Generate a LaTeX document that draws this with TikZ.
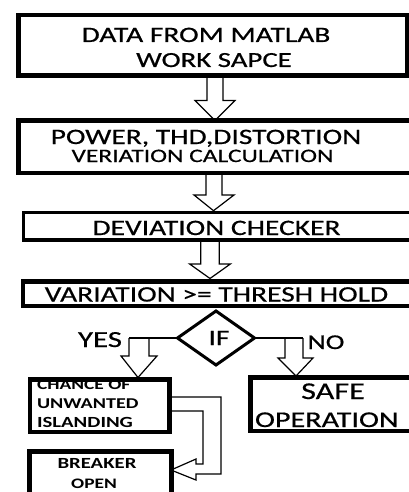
\documentclass[tikz,border=0pt]{standalone}
\usepackage{fontspec}
\setmainfont{Carlito}[FakeStretch=1.34]
\newfontfamily\medfont{Carlito}[FakeStretch=1.34, FakeBold=0.6]
\usetikzlibrary{calc,shapes.geometric}

% hollow block arrow pointing down: #1 start, #2 tip, #3 half shaft, #4 half head, #5 head length
\newcommand\hollowdown[5]{%
  \draw[blockline] let \p1=(#1), \p2=(#2) in
    (\x1-#3pt,\y1) -- (\x1-#3pt,\y2+#5pt) -- (\x1-#4pt,\y2+#5pt) -- (\x2,\y2)
    -- (\x1+#4pt,\y2+#5pt) -- (\x1+#3pt,\y2+#5pt) -- (\x1+#3pt,\y1);}

\tikzset{
  box/.style={draw=black, rectangle, inner sep=0pt, outer sep=0pt},
  blockline/.style={draw=black, line width=1.2pt, line join=miter},
  txt/.style={inner sep=0pt, outer sep=0pt, anchor=base, text=black},
  txtl/.style={txt, anchor=base west},
  branch/.style={draw=black, line width=2.6pt},
}

\begin{document}
\begin{tikzpicture}[x=1pt, y=-1pt]
\useasboundingbox (0,0) rectangle (409,492);
\fill[white] (0,0) rectangle (409,492);

% process boxes
\node[box, line width=4.6pt, minimum width=388.5pt, minimum height=60.5pt] (b1) at (212.75,45.25) {};
\node[box, line width=4.5pt, minimum width=392.5pt, minimum height=52.5pt] (b2) at (214.75,146.75) {};
\node[box, line width=3.8pt, minimum width=387.5pt, minimum height=27.5pt] (b3) at (217.25,226.25) {};
\node[box, line width=4.5pt, minimum width=388pt, minimum height=24.5pt] (b4) at (217,293.55) {};
\node[draw=black, diamond, line width=3pt, inner sep=0pt, outer sep=0pt,
      minimum width=77pt, minimum height=54pt] (dec) at (216,338) {};
\node[box, line width=4.5pt, minimum width=139.5pt, minimum height=52.3pt] (ch) at (99.75,405.6) {};
\node[box, line width=4.5pt, minimum width=160.7pt, minimum height=53.5pt] (safe) at (330.6,404) {};
\node[box, line width=5pt, minimum width=142pt, minimum height=59pt] (brk) at (100,480.5) {};

% texts
\node[txt, font=\medfont\fontsize{22}{24}\selectfont] (t1a) at (206,42) {DATA FROM MATLAB};
\node[txt, font=\medfont\fontsize{21.5}{24}\selectfont] (t1b) at (214,67) {WORK SAPCE};
\node[txt, font=\medfont\fontsize{22}{24}\selectfont] (t2a) at (206,144) {POWER, THD,DISTORTION};
\node[txt, font=\medfont\fontsize{19}{21}\selectfont] (t2b) at (202.5,162) {VERIATION CALCULATION};
\node[txt, font=\medfont\fontsize{22}{24}\selectfont] (t3) at (216.5,235) {DEVIATION CHECKER};
\node[txt, font=\medfont\fontsize{22}{24}\selectfont] (t4) at (216.5,301.5) {VARIATION >= THRESH HOLD};
\node[txt, font=\medfont\fontsize{22}{24}\selectfont] (tif) at (219,345) {IF};
\node[txt, font=\medfont\fontsize{23}{25}\selectfont] (tyes) at (100,347) {YES};
\node[txt, font=\medfont\fontsize{21}{24}\selectfont] (tno) at (326,349) {NO};
\node[txtl, font=\bfseries\fontsize{14.5}{16}\selectfont] (tc1) at (37,389) {CHANCE OF};
\node[txtl, font=\bfseries\fontsize{15}{17}\selectfont] (tc2) at (37,408) {UNWANTED};
\node[txtl, font=\bfseries\fontsize{15.5}{17}\selectfont] (tc3) at (37,427) {ISLANDING};
\node[txt, font=\medfont\fontsize{24}{26}\selectfont] (ts1) at (333,399) {SAFE};
\node[txtl, font=\medfont\fontsize{22.5}{25}\selectfont] (ts2) at (255,427) {OPERATION};
\node[txt, font=\bfseries\fontsize{15.5}{17}\selectfont] (tb1) at (97,468) {BREAKER};
\node[txt, font=\bfseries\fontsize{14.5}{16}\selectfont] (tb2) at (94,488) {OPEN};

% arrow end points on the box borders
\coordinate (a1s) at (b1.south -| 215,0);
\coordinate (a1t) at (b2.north -| 215,0);
\coordinate (a2s) at (b2.south -| 214,0);
\coordinate (a2t) at (213.5,210.7);
\coordinate (a3s) at (b3.south -| 210,0);
\coordinate (a3t) at (210,278.5);

\hollowdown{a1s}{a1t}{8}{20}{20}
\hollowdown{a2s}{a2t}{8}{20}{15.7}
\hollowdown{a3s}{a3t}{9.3}{20.5}{14.6}

% decision branches
\coordinate (yesend) at (dec.west -| 129,0);
\coordinate (noend) at (dec.east -| 303,0);
\coordinate (yestip) at (138,377.5);
\coordinate (notip) at (296,376);
\draw[branch] (dec.west) -- (yesend);
\draw[branch] (dec.east) -- (noend);
\draw[blockline] (yesend) -- (129,356) -- (121,356) -- (yestip) -- (157,356) -- (149,356) -- (149,339);
\draw[blockline] (285,339) -- (285,358) -- (278,358) -- (notip) -- (313,358) -- (noend |- 0,358) -- (noend);

% bent arrow from islanding box to breaker box
\coordinate (bendtip) at (brk.east |- 0,470);
\draw[blockline] (ch.east |- 0,397) -- (221,397) -- (221,474) -- (196,474) -- (196,480)
  -- (bendtip) -- (196,459) -- (196,464) -- (203,464) -- (203,411) -- (ch.east |- 0,411);
\end{tikzpicture}
\end{document}
